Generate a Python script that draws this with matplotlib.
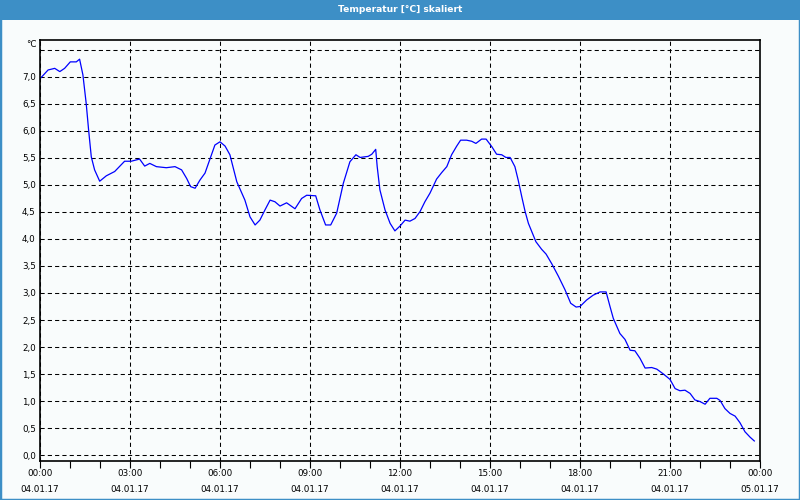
# Temperatur-Verlauf 04.01.17, nachgezeichnet aus dem Screenshot

import numpy as np
import matplotlib.pyplot as plt
from matplotlib.patches import Rectangle
from matplotlib.ticker import MultipleLocator

# Stunden seit 04.01.17 00:00
hours = [0.02, 0.27, 0.49, 0.66, 0.82, 1.01, 1.21, 1.32, 1.43, 1.54,
         1.62, 1.71, 1.82, 1.99, 2.21, 2.49, 2.82, 3.04, 3.32, 3.49,
         3.66, 3.88, 4.21, 4.50, 4.72, 4.89, 5.02, 5.17, 5.33, 5.50,
         5.67, 5.83, 6.00, 6.17, 6.33, 6.56, 6.83, 7.00, 7.17, 7.33,
         7.50, 7.67, 7.83, 8.00, 8.22, 8.50, 8.72, 8.89, 9.19, 9.33,
         9.52, 9.69, 9.89, 10.11, 10.33, 10.53, 10.67, 10.94, 11.06, 11.19,
         11.24, 11.33, 11.50, 11.67, 11.83, 12.00, 12.17, 12.33, 12.50, 12.67,
         12.83, 13.00, 13.22, 13.39, 13.56, 13.72, 13.89, 14.02, 14.22, 14.39,
         14.53, 14.72, 14.87, 15.06, 15.22, 15.39, 15.53, 15.67, 15.83, 15.94,
         16.06, 16.17, 16.28, 16.39, 16.53, 16.72, 16.87, 17.06, 17.28, 17.50,
         17.69, 17.87, 18.00, 18.22, 18.44, 18.67, 18.87, 19.00, 19.11, 19.33,
         19.50, 19.67, 19.83, 20.00, 20.17, 20.39, 20.56, 20.78, 21.00, 21.17,
         21.33, 21.50, 21.67, 21.83, 22.00, 22.17, 22.33, 22.56, 22.67, 22.83,
         23.00, 23.17, 23.33, 23.50, 23.67, 23.81]

temp = [6.98, 7.13, 7.16, 7.10, 7.16, 7.28, 7.28, 7.33, 7.04, 6.51,
        6.02, 5.52, 5.28, 5.07, 5.17, 5.25, 5.44, 5.44, 5.48, 5.35,
        5.40, 5.34, 5.32, 5.34, 5.28, 5.12, 4.97, 4.94, 5.09, 5.22,
        5.49, 5.74, 5.80, 5.72, 5.56, 5.06, 4.72, 4.41, 4.26, 4.35,
        4.54, 4.72, 4.69, 4.61, 4.67, 4.56, 4.75, 4.81, 4.80, 4.54,
        4.26, 4.26, 4.48, 5.03, 5.43, 5.56, 5.51, 5.53, 5.57, 5.66,
        5.34, 4.91, 4.54, 4.29, 4.15, 4.24, 4.35, 4.33, 4.38, 4.51,
        4.69, 4.85, 5.11, 5.23, 5.34, 5.56, 5.72, 5.83, 5.83, 5.81,
        5.77, 5.85, 5.85, 5.71, 5.57, 5.56, 5.51, 5.51, 5.34, 5.09,
        4.78, 4.51, 4.29, 4.14, 3.95, 3.81, 3.72, 3.54, 3.31, 3.06,
        2.81, 2.74, 2.75, 2.87, 2.96, 3.02, 3.02, 2.75, 2.53, 2.25,
        2.14, 1.94, 1.93, 1.79, 1.61, 1.62, 1.59, 1.50, 1.40, 1.23,
        1.19, 1.20, 1.14, 1.02, 0.99, 0.94, 1.05, 1.05, 1.01, 0.86,
        0.77, 0.72, 0.60, 0.43, 0.33, 0.26]

xtick_pos = [0, 3, 6, 9, 12, 15, 18, 21, 24]
xtick_lab = ['00:00\n04.01.17', '03:00\n04.01.17', '06:00\n04.01.17',
             '09:00\n04.01.17', '12:00\n04.01.17', '15:00\n04.01.17',
             '18:00\n04.01.17', '21:00\n04.01.17', '00:00\n05.01.17']
ytick_pos = np.arange(0, 7.01, 0.5)
ytick_lab = ['%.1f' % v for v in ytick_pos]
ytick_lab = [s.replace('.', ',') for s in ytick_lab]

title = 'Temperatur [°C] skaliert'
bg = '#f9fcfc'
bar = '#3d8fc6'

plt.rcParams['font.family'] = 'DejaVu Sans'
fig = plt.figure(figsize=(8, 5), dpi=100, facecolor=bg)
ax = fig.add_axes([40/800, 1-461/500, 720/800, 421/500], facecolor=bg)

# Titelleiste und Fensterrahmen
fig.patches.append(Rectangle((0, 1-20/500), 1, 20/500, transform=fig.transFigure,
                             facecolor=bar, edgecolor='none', zorder=0))
fig.patches.append(Rectangle((0, 0), 1, 1, transform=fig.transFigure,
                             facecolor='none', edgecolor=bar, lw=2.5, zorder=0))
fig.text(0.5, 1-9.5/500, title, color='white', fontsize=6.6, fontweight='bold',
         ha='center', va='center')

ax.plot(hours, temp, color='#0000ff', lw=0.9)

ax.set_xlim(0, 24)
ax.set_ylim(-0.111, 7.685)

ax.set_xticks(xtick_pos)
ax.set_xticklabels(xtick_lab, fontsize=6.3, linespacing=2.1)
ax.xaxis.set_minor_locator(MultipleLocator(1))
ax.tick_params(axis='x', which='both', direction='out', length=5, width=0.8,
               pad=0.5, color='black')
ax.set_yticks(ytick_pos)
ax.set_yticklabels(ytick_lab, fontsize=6.3)
ax.tick_params(axis='y', length=0, pad=3)

# gestricheltes Gitter, auch die Linie bei 7,5
ax.grid(True, which='major', color='black', lw=0.75, linestyle=(0, (4, 3)))
ax.axhline(7.5, color='black', lw=0.75, linestyle=(0, (4, 3)))

for s in ax.spines.values():
    s.set_linewidth(1.2)

ax.text(-0.005, 1.0, '°C', transform=ax.transAxes, ha='right', va='top',
        fontsize=6.3)

plt.savefig('out.png', dpi=100, facecolor=bg)
